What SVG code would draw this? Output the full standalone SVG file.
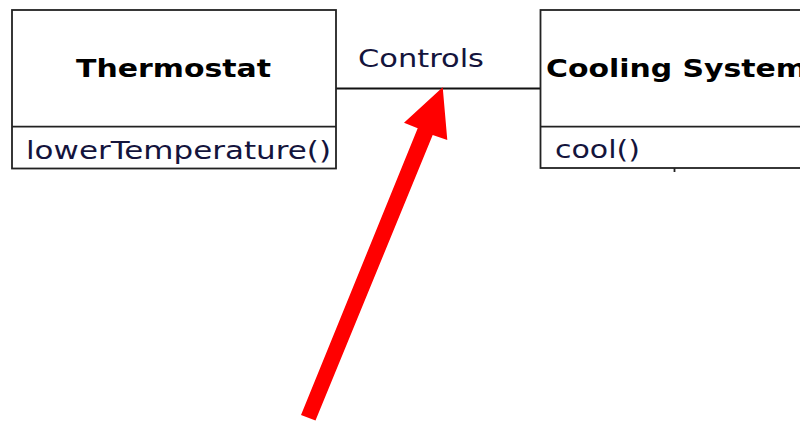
<svg xmlns="http://www.w3.org/2000/svg" width="800" height="421" viewBox="0 0 800 421">
  <style>
    .box { fill: #fff; stroke: #222; stroke-width: 1.8; }
    .div { stroke: #222; stroke-width: 1.8; }
    .title { font-family: "DejaVu Sans", Verdana, sans-serif; font-weight: bold; font-size: 24px; fill: #000; }
    .txt { font-family: "DejaVu Sans", Verdana, sans-serif; font-size: 25px; fill: #14143c; }
    .conn { stroke: #111; stroke-width: 1.8; fill: none; }
  </style>
  <rect width="800" height="421" fill="#fff"/>
  <g id="connectors">
    <line class="conn" x1="336" y1="88.5" x2="540" y2="88.5"/>
    <text class="txt" x="358" y="66.5" textLength="126" lengthAdjust="spacingAndGlyphs">Controls</text>
  </g>
  <g id="thermostat">
    <rect class="box" x="12" y="10" width="324" height="158.5"/>
    <line class="div" x1="12" y1="126.7" x2="336" y2="126.7"/>
    <text class="title" x="76" y="77" textLength="195" lengthAdjust="spacingAndGlyphs">Thermostat</text>
    <text class="txt" x="26" y="158.5" textLength="305" lengthAdjust="spacingAndGlyphs">lowerTemperature()</text>
  </g>
  <g id="cooling-system">
    <rect class="box" x="540.5" y="10" width="270" height="158"/>
    <line class="div" x1="540.5" y1="126.7" x2="800" y2="126.7"/>
    <text class="title" x="546" y="77" textLength="261" lengthAdjust="spacingAndGlyphs">Cooling System</text>
    <text class="txt" x="555" y="157.5" textLength="85" lengthAdjust="spacingAndGlyphs">cool()</text>
    <line class="div" x1="674.5" y1="168" x2="674.5" y2="172"/>
  </g>
  <g id="red-arrow">
    <polygon fill="#ff0000" points="301,415 417.7,128.3 404,122.7 442.7,87.3 447.3,140 432.7,135 315.5,420.5"/>
  </g>
</svg>
